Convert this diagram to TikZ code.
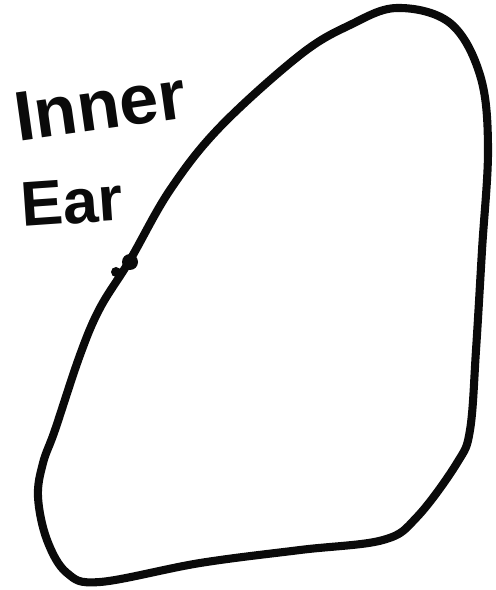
\documentclass[tikz,border=0pt]{standalone}
\usepackage{fontspec}
\setmainfont{Liberation Sans}
\usetikzlibrary{positioning,calc}
\definecolor{EarInk}{HTML}{0A0A0A}
\definecolor{EarPaper}{HTML}{FFFFFF}

\begin{document}
\begin{tikzpicture}[x=0.02cm,y=-0.02cm]
\useasboundingbox[fill=EarPaper] (0,0) rectangle (495,590);
\draw[EarInk,line width=4.6pt,line join=round] plot[smooth cycle,tension=0.6] coordinates {
(55,430) (80,355) (100,308) (130,260) (170,190) (220,127) (300,55) (350,25) (397,8) (450,23)
(480,75) (488,147) (482,250) (476,350) (470,430) (457,463) (417,517) (383,540) (300,550)
(200,563) (100,582) (67,573) (47,540) (38,497) (43,463)};
\fill[EarInk] (130,262) circle[radius=8] (116,272) circle[radius=5];
\node[EarInk,font=\fontsize{40}{40}\selectfont\bfseries,rotate=8,inner sep=0pt] (inner) at (100,106) {Inner};
\node[EarInk,font=\fontsize{36}{36}\selectfont\bfseries,rotate=4,inner sep=0pt] (ear) at (72,202) {Ear};
\end{tikzpicture}
\end{document}
